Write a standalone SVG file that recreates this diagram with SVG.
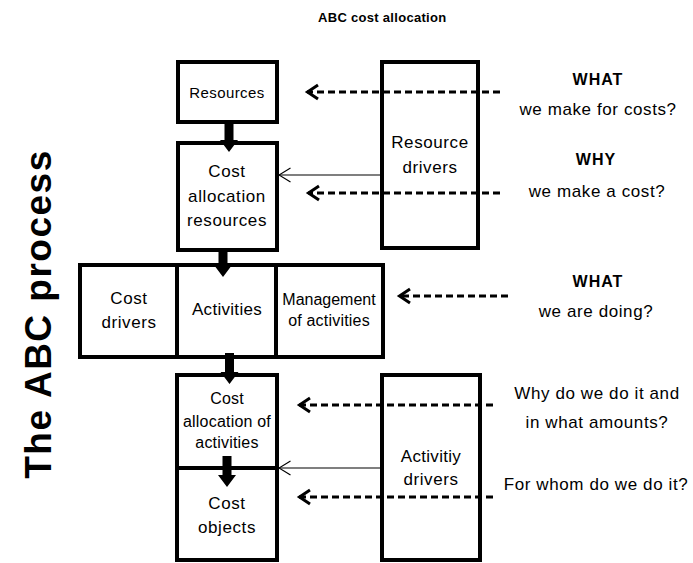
<svg xmlns="http://www.w3.org/2000/svg" width="693" height="563" viewBox="0 0 693 563">
<style>
  .box { fill: #fff; stroke: #000; stroke-width: 4; }
  .t { font-family: "Liberation Sans", Arial, sans-serif; font-size: 17px; letter-spacing: 0.6px; fill: #000; text-anchor: middle; }
  .s16 { font-size: 16px; letter-spacing: 0.2px; }
  .s15 { font-size: 15px; letter-spacing: 0.4px; }
  .b { font-weight: bold; font-size: 16px; letter-spacing: 1px; }
  .dash { fill: none; stroke: #000; stroke-width: 3; stroke-dasharray: 7 4; marker-end: url(#chev); }
  .thin { fill: none; stroke: #000; stroke-width: 1.2; marker-end: url(#open); }
  .thick { fill: #000; stroke: none; }
</style>
<defs>
  <marker id="chev" markerUnits="userSpaceOnUse" markerWidth="16" markerHeight="18" refX="11" refY="8" orient="auto" viewBox="-2 -1 16 18">
    <path d="M0,1 L10.5,8 L0,15" fill="none" stroke="#000" stroke-width="3"/>
  </marker>
  <marker id="open" markerUnits="userSpaceOnUse" markerWidth="14" markerHeight="16" refX="11.5" refY="7" orient="auto" viewBox="-1 -1 14 16">
    <path d="M0,0 L11.5,7 L0,14" fill="none" stroke="#000" stroke-width="1.2"/>
  </marker>
</defs>
<rect width="693" height="563" fill="#fff"/>

<text class="t b" x="318" y="22" style="font-size:13px;letter-spacing:0.3px;text-anchor:start">ABC cost allocation</text>
<text class="t b" transform="translate(51,314) rotate(-90)" style="font-size:37px;letter-spacing:1.5px">The ABC process</text>

<g id="resources">
  <rect class="box" x="178" y="62" width="99" height="60"/>
  <text class="t s15" x="227" y="98">Resources</text>
</g>
<g id="cost-allocation-resources">
  <rect class="box" x="178" y="143" width="99" height="107"/>
  <text class="t" x="227" y="177">Cost</text>
  <text class="t" x="227" y="202">allocation</text>
  <text class="t" x="227" y="226">resources</text>
</g>
<g id="resource-drivers">
  <rect class="box" x="382" y="62" width="96" height="186"/>
  <text class="t" x="430" y="148">Resource</text>
  <text class="t" x="430" y="173">drivers</text>
</g>
<g id="cost-drivers">
  <rect class="box" x="80" y="265" width="97" height="92"/>
  <text class="t" x="129" y="304">Cost</text>
  <text class="t" x="129" y="328">drivers</text>
</g>
<g id="activities">
  <rect class="box" x="177" y="265" width="99" height="92"/>
  <text class="t" x="227" y="315" style="letter-spacing:0.3px">Activities</text>
</g>
<g id="management">
  <rect class="box" x="276" y="265" width="107" height="92"/>
  <text class="t s16" x="329" y="305" style="letter-spacing:0">Management</text>
  <text class="t s16" x="329" y="326">of activities</text>
</g>
<g id="cost-allocation-activities">
  <rect class="box" x="177" y="375" width="100" height="93"/>
  <text class="t s16" x="227" y="404">Cost</text>
  <text class="t s16" x="227" y="427">allocation of</text>
  <text class="t s16" x="227" y="448">activities</text>
</g>
<g id="cost-objects">
  <rect class="box" x="177" y="468" width="100" height="92"/>
  <text class="t" x="227" y="509">Cost</text>
  <text class="t" x="227" y="533">objects</text>
</g>
<g id="activity-drivers">
  <rect class="box" x="382" y="375" width="98" height="185"/>
  <text class="t" x="431" y="462" style="letter-spacing:0.3px">Activitiy</text>
  <text class="t" x="431" y="485">drivers</text>
</g>

<g id="questions">
  <text class="t b" x="598" y="85">WHAT</text>
  <text class="t" x="598" y="115">we make for costs?</text>
  <text class="t b" x="596" y="165">WHY</text>
  <text class="t" x="597" y="197">we make a cost?</text>
  <text class="t b" x="598" y="287">WHAT</text>
  <text class="t" x="596" y="317">we are doing?</text>
  <text class="t" x="597" y="399">Why do we do it and</text>
  <text class="t" x="597" y="428">in what amounts?</text>
  <text class="t" x="596" y="490">For whom do we do it?</text>
</g>

<g id="connectors">
  <polygon class="thick" points="224.5,122 233.5,122 233.5,140 238,140 229,152 220,140 224.5,140"/>
  <polygon class="thick" points="218.5,250 227.5,250 227.5,265 232,265 223,277 214,265 218.5,265"/>
  <polygon class="thick" points="225,353 234,353 234,372 238.5,372 229.5,384 220.5,372 225,372"/>
  <polygon class="thick" points="222.5,456 231.5,456 231.5,475 236,475 227,487 218,475 222.5,475"/>
  <line class="thin" x1="382" y1="175" x2="279" y2="175"/>
  <line class="thin" x1="382" y1="468" x2="279" y2="468"/>
  <line class="dash" x1="500" y1="92" x2="307" y2="92"/>
  <line class="dash" x1="500" y1="193" x2="308" y2="193"/>
  <line class="dash" x1="508" y1="296" x2="399" y2="296"/>
  <line class="dash" x1="493" y1="405" x2="299" y2="405"/>
  <line class="dash" x1="493" y1="497" x2="299" y2="497"/>
</g>
</svg>
